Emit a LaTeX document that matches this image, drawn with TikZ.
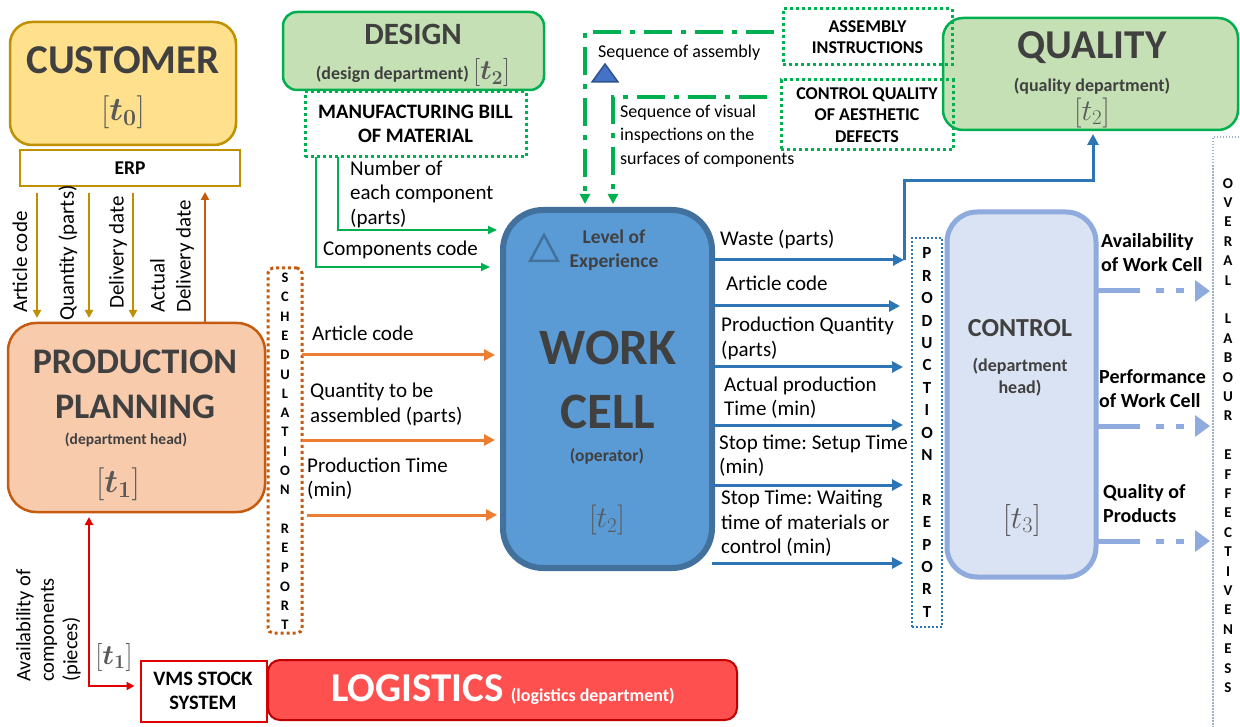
\RequirePackage{fix-cm}
\documentclass[tikz,border=0pt]{standalone}
\usepackage{bm}
\usepackage{fontspec}
\setmainfont{Carlito}
\usetikzlibrary{arrows.meta,calc}
\definecolor{custF}{HTML}{FFE08C}
\definecolor{custD}{HTML}{BF9000}
\definecolor{ppF}{HTML}{F8CBAD}
\definecolor{ppD}{HTML}{C55A11}
\definecolor{grF}{HTML}{C5E0B4}
\definecolor{grD}{HTML}{00B050}
\definecolor{wcF}{HTML}{5B9BD5}
\definecolor{wcD}{HTML}{41719C}
\definecolor{orA}{HTML}{ED7D31}
\definecolor{blA}{HTML}{2E75B6}
\definecolor{ctF}{HTML}{DAE3F3}
\definecolor{ctD}{HTML}{8FAADC}
\definecolor{oleC}{HTML}{9DB0D0}
\definecolor{lgF}{HTML}{FF5050}
\definecolor{lgD}{HTML}{C00000}
\definecolor{redA}{HTML}{E00000}
\definecolor{ttl}{HTML}{404040}
\definecolor{mthC}{HTML}{595959}
\definecolor{triF}{HTML}{4472C4}
\definecolor{triD}{HTML}{2F528F}
\newcommand\fsz[2]{\fontsize{#1}{#2}\selectfont}
\newcommand\fsl[1]{\fontsize{#1}{\fpeval{1.2*#1}}\selectfont}
\frenchspacing
\begin{document}
\begin{tikzpicture}[x=1pt,y=-1pt,
  bx/.style={inner sep=0pt, outer sep=0pt},
  title/.style={inner sep=0pt, text=ttl, font=\bfseries\fsz{#1}{#1}},
  sub/.style={inner sep=0pt, text=ttl, align=center, font=\bfseries\fsl{#1}},
  mth/.style={inner sep=0pt, text=mthC, font=\fsz{#1}{#1}},
  lbl/.style={inner sep=0pt, anchor=west, align=left, font=\fsz{21}{24.5}},
  rlbl/.style={inner sep=0pt, anchor=west, align=left, rotate=90, font=\fsz{21}{26}},
  slbl/.style={inner sep=0pt, anchor=west, align=left, font=\fsz{18}{23.5}},
  blbl/.style={inner sep=0pt, anchor=west, align=left, font=\bfseries\fsz{20}{24.5}},
  boxlbl/.style={inner sep=0pt, align=center, font=\bfseries\fsl{#1}},
  gdot/.style={bx, draw=grD, line width=3pt, dash pattern=on 3pt off 3pt},
  goldarrow/.style={draw=custD, line width=2pt, -{Triangle[length=8pt,width=8pt]}},
  brarrow/.style={draw=ppD, line width=2.5pt, -{Triangle[length=8pt,width=8pt]}},
  garrow/.style={draw=grD, line width=2pt, -{Triangle[length=9pt,width=8pt]}},
  oarrow/.style={draw=orA, line width=3pt, -{Triangle[length=11pt,width=11pt]}},
  barrow/.style={draw=blA, line width=3pt, -{Triangle[length=11pt,width=11pt]}},
  rarrow/.style={draw=redA, line width=2pt},
  ddash/.style={draw=grD, line width=3.5pt, dash pattern=on 28pt off 9pt on 5pt off 9pt, -{Triangle[length=10pt,width=10pt]}},
  larrow/.style={draw=ctD, line width=5pt, dash pattern=on 44pt off 16pt on 8pt off 12pt on 8pt off 40pt, -{Triangle[length=15pt,width=21pt]}},
]
\useasboundingbox (0,0) rectangle (1240,727);
\fill[white] (0,0) rectangle (1240,727);

% ---------- CUSTOMER ----------
\node[bx, draw=custD, fill=custF, line width=2.5pt, rounded corners=22pt, minimum width=226pt, minimum height=123pt] (cust) at (123,83.5) {};
\node[title=41] (custT) at (123,60) {CUSTOMER};
\node[mth=33] (custt) at (123,112) {$[\bm{t}_{\bm{0}}]$};
\node[bx, draw=custD, fill=white, line width=2pt, minimum width=220pt, minimum height=36pt] (erp) at (130,168) {};
\node[boxlbl=19.5] (erpT) at (130,168) {ERP};

% ---------- PRODUCTION PLANNING ----------
\node[bx, draw=ppD, fill=ppF, line width=2.5pt, rounded corners=28pt, minimum width=257pt, minimum height=189pt] (pp) at (136.5,417.5) {};
\node[title=36] (ppT1) at (135,362) {PRODUCTION};
\node[title=36] (ppT2) at (135,407) {PLANNING};
\node[sub=15.5] (ppS) at (126,440) {(department head)};
\node[mth=33] (ppt) at (118,484) {$[\bm{t}_{\bm{1}}]$};

\draw[goldarrow] ([xshift=17pt,yshift=-7pt]erp.south west) -- ([xshift=29pt,yshift=5pt]pp.north west);
\draw[goldarrow] ([xshift=69pt,yshift=-7pt]erp.south west) -- ([xshift=81pt,yshift=5pt]pp.north west);
\draw[goldarrow] ([xshift=113pt,yshift=-7pt]erp.south west) -- ([xshift=125pt,yshift=5pt]pp.north west);
\draw[brarrow] ([xshift=197pt]pp.north west) -- ([xshift=185pt,yshift=-6pt]erp.south west);
\node[rlbl] (l1) at (20,313) {Article code};
\node[rlbl] (l2) at (68,321) {Quantity (parts)};
\node[rlbl] (l3) at (118,309) {Delivery date};
\node[rlbl] (l4) at (172,313) {Actual\\Delivery date};

% ---------- LOGISTICS ----------
\node[bx, draw=redA, fill=white, line width=2pt, minimum width=126pt, minimum height=61pt] (vms) at (203.5,691) {};
\node[boxlbl=20.5] (vmsT) at (203,691) {VMS STOCK\\SYSTEM};
\node[bx, draw=lgD, fill=lgF, line width=2pt, rounded corners=12pt, minimum width=469pt, minimum height=60pt] (lg) at (502.5,690) {};
\node[inner sep=0pt, text=white, font=\bfseries\fsz{41}{41}] (lgT) at (503,690) {LOGISTICS\,{\fsz{18}{18}(logistics department)}};
\draw[rarrow, {Triangle[length=8pt,width=8pt]}-{Triangle[length=8pt,width=8pt]}] ([xshift=81pt,yshift=-5pt]pp.south west) |- ([xshift=-6pt,yshift=5pt]vms.west);
\node[inner sep=0pt, anchor=west, align=left, rotate=90, font=\fsz{20.5}{23.5}] (avl) at (48.5,682) {Availability of\\components\\(pieces)};
\node[mth=28] (vmst) at (114,657) {$[\bm{t}_{\bm{1}}]$};

% ---------- DESIGN ----------
\node[bx, draw=grD, fill=grF, line width=2.5pt, rounded corners=14pt, minimum width=261pt, minimum height=78pt] (des) at (413.5,51) {};
\node[title=31] (desT) at (413,34) {DESIGN};
\node[inner sep=0pt, text=ttl, font=\bfseries\fsz{18}{18}] (desS) at (413,73) {(design department) \fsz{28}{28}\textcolor{mthC}{$[\bm{t}_{\bm{2}}]$}};
\node[gdot, minimum width=221pt, minimum height=65pt] (mbom) at (415.5,124.5) {};
\node[boxlbl=20.5] (mbomT) at (415.5,124) {MANUFACTURING BILL\\OF MATERIAL};

% ---------- WORK CELL ----------
\node[bx, draw=wcD, fill=wcF, line width=6pt, rounded corners=40pt, minimum width=209pt, minimum height=358pt] (wc) at (607.5,389) {};
\draw[garrow] ([xshift=11pt]mbom.south west) |- ($(wc.west)+(-13,-122)$);
\draw[garrow] ([xshift=33pt]mbom.south west) |- ($(wc.west)+(-6,-159)$);
\node[lbl] (gl1) at (323,250) {Components code};
\node[lbl] (gl2) at (350,194) {Number of\\each component\\(parts)};
\draw[draw=wcD, line width=2.5pt, line join=miter] (530,261) -- (544,235) -- (558,261) -- cycle;
\node[sub=19.5] (wcL) at (614,250) {Level of\\Experience};
\node[title=51] (wcT1) at (608,348) {WORK};
\node[title=51] (wcT2) at (608,412) {CELL};
\node[sub=17.5] (wcS) at (607,456) {(operator)};
\node[mth=30] (wct) at (607,520) {$[t_2]$};

% ---------- SCHEDULATION REPORT ----------
\node[bx, draw=ppD, line width=3pt, dash pattern=on 3pt off 3pt, rounded corners=5pt, minimum width=34pt, minimum height=365pt] (sch) at (285,450.5) {};
\node[inner sep=0pt, align=center, font=\bfseries\fsz{14.5}{19.3}] (schT) at (285,451.5) {S\\C\\H\\E\\D\\U\\L\\A\\T\\I\\O\\N\\[19.3pt]R\\E\\P\\O\\R\\T};
\draw[oarrow] ($(sch.east)+(0,-95.5)$) -- ($(wc.west)+(-8,-34)$);
\draw[oarrow] ($(sch.east)+(0,-10.5)$) -- ($(wc.west)+(-8,51)$);
\draw[oarrow] ($(sch.east)+(5,64.5)$) -- ($(wc.west)+(-6,126)$);
\node[lbl] (ol1) at (312,333) {Article code};
\node[lbl] (ol2) at (310,404.5) {Quantity to be\\assembled (parts)};
\node[lbl] (ol3) at (307,478.5) {Production Time\\(min)};

% ---------- QUALITY ----------
\node[bx, draw=grD, fill=grF, line width=2.5pt, rounded corners=20pt, minimum width=295pt, minimum height=112pt] (qual) at (1090.5,74) {};
\node[title=41] (qualT) at (1092,48) {QUALITY};
\node[sub=18] (qualS) at (1092,86) {(quality department)};
\node[mth=30] (qualt) at (1092,113) {$[t_2]$};
\node[gdot, minimum width=169pt, minimum height=56pt] (ai) at (867.5,37) {};
\node[boxlbl=18] (aiT) at (867.5,37) {ASSEMBLY\\INSTRUCTIONS};
\node[gdot, minimum width=172pt, minimum height=70pt] (cq) at (867,115) {};
\node[boxlbl=18] (cqT) at (867,115) {CONTROL QUALITY\\OF AESTHETIC\\DEFECTS};
\draw[ddash] ([xshift=-9pt,yshift=5pt]ai.west) -| ($(wc.north)+(-22.5,-6)$);
\draw[ddash] ([xshift=-14pt,yshift=18pt]cq.west) -| ($(wc.north)+(5.5,-6)$);
\draw[draw=triD, fill=triF, line width=1.5pt] (592,82) -- (605,64) -- (618,82) -- cycle;
\node[slbl] (sq1) at (598,53) {Sequence of assembly};
\node[slbl] (sq2) at (620,136) {Sequence of visual\\inspections on the\\surfaces of components};

% ---------- PRODUCTION REPORT ----------
\node[bx, draw=blA, line width=2pt, dash pattern=on 2pt off 2pt, minimum width=30pt, minimum height=389pt] (prep) at (927,432.5) {};
\node[inner sep=0pt, align=center, font=\bfseries\fsz{17}{22.4}] (prepT) at (927,432.5) {P\\R\\O\\D\\U\\C\\T\\I\\O\\N\\[22.4pt]R\\E\\P\\O\\R\\T};
\draw[barrow] ($(wc.east)+(0,-129)$) -- ($(prep.west)+(-8,-172.5)$);
\draw[barrow, shorten >=4pt] ($(prep.west)+(-8,-172.5)$) -- ++(0,-79) -| ([xshift=2.5pt]qual.south);
\draw[barrow] ($(wc.east)+(0,-83)$) -- ($(prep.west)+(-12,-126.5)$);
\draw[barrow] ($(wc.east)+(0,-22)$) -- ($(prep.west)+(-9,-65.5)$);
\draw[barrow] ($(wc.east)+(0,36)$) -- ($(prep.west)+(-9,-7.5)$);
\draw[barrow] ($(wc.east)+(0,96)$) -- ($(prep.west)+(-9,52.5)$);
\draw[barrow] ($(wc.east)+(0,174)$) -- ($(prep.west)+(-9,130.5)$);
\node[lbl] (bl1) at (720,240) {Waste (parts)};
\node[lbl] (bl2) at (726,283) {Article code};
\node[lbl] (bl3) at (721,338.5) {Production Quantity\\(parts)};
\node[lbl] (bl4) at (724,397.5) {Actual production\\Time (min)};
\node[lbl] (bl5) at (719,455.5) {Stop time: Setup Time\\(min)};
\node[lbl] (bl6) at (721,523.5) {Stop Time: Waiting\\time of materials or\\control (min)};

% ---------- CONTROL ----------
\node[bx, draw=ctD, fill=ctF, line width=5pt, rounded corners=30pt, minimum width=149pt, minimum height=365pt] (ctl) at (1021.5,394.5) {};
\node[title=26] (ctlT) at (1020,328) {CONTROL};
\node[sub=18] (ctlS) at (1020,377) {(department\\head)};
\node[mth=32] (ctlt) at (1022,520) {$[t_3]$};

% ---------- OLE ----------
\node[bx, draw=oleC, line width=1.5pt, dash pattern=on 1.5pt off 1.5pt, minimum width=40pt, minimum height=600pt] (ole) at (1233,437) {};
\node[inner sep=0pt, align=center, font=\bfseries\fsz{15}{19.4}] (oleT) at (1228,435.5) {O\\V\\E\\R\\A\\L\\[19.4pt]L\\A\\B\\O\\U\\R\\[19.4pt]E\\F\\F\\E\\C\\T\\I\\V\\E\\N\\E\\S\\S};
\draw[larrow] ($(ctl.east)+(0,-103.5)$) -- ($(ole.west)+(-3,-146)$);
\draw[larrow] ($(ctl.east)+(0,31.5)$) -- ($(ole.west)+(-3,-11)$);
\draw[larrow] ($(ctl.east)+(0,146.5)$) -- ($(ole.west)+(-3,104)$);
\node[blbl] (cl1) at (1101,252.5) {Availability\\of Work Cell};
\node[blbl] (cl2) at (1099,388.5) {Performance\\of Work Cell};
\node[blbl] (cl3) at (1103,503.5) {Quality of\\Products};
\end{tikzpicture}
\end{document}
